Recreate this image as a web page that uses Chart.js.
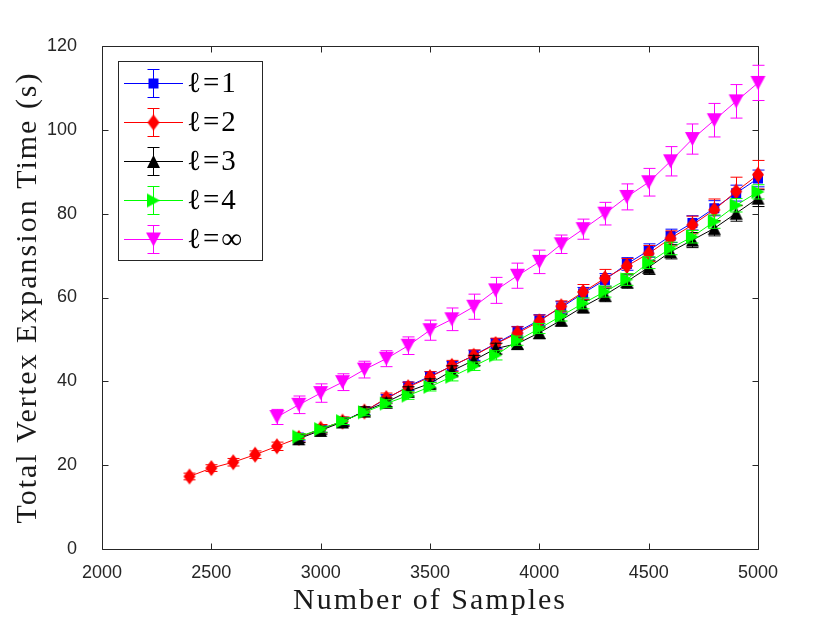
<!DOCTYPE html>
<html><head><meta charset="utf-8">
<script src="https://cdn.jsdelivr.net/npm/chart.js@4.4.0/dist/chart.umd.min.js"></script>
<style>html,body{margin:0;padding:0;background:#fff;}canvas{display:block}</style>
</head><body>
<canvas id="c" width="830" height="623"></canvas>
<script>
// ---- data ----
const samplesL2  = [2400,2500,2600,2700,2800,2900,3000,3100,3200,3300,3400,3500,3600,3700,3800,3900,4000,4100,4200,4300,4400,4500,4600,4700,4800,4900,5000];
const samplesInf = [2800,2900,3000,3100,3200,3300,3400,3500,3600,3700,3800,3900,4000,4100,4200,4300,4400,4500,4600,4700,4800,4900,5000];
const samples    = [2900,3000,3100,3200,3300,3400,3500,3600,3700,3800,3900,4000,4100,4200,4300,4400,4500,4600,4700,4800,4900,5000];

const l1Values = [26.6,28.6,30.4,32.9,35.8,38.8,41.2,43.6,46.2,49.0,51.8,54.6,57.6,61.0,64.2,68.0,71.2,74.7,77.8,81.3,84.9,88.4];
const l1Errors = [0.8,0.8,0.9,0.9,1.0,1.0,1.1,1.1,1.2,1.2,1.3,1.3,1.4,1.4,1.5,1.5,1.6,1.6,1.7,1.8,1.9,2.0];

const l2Values = [17.3,19.3,20.7,22.5,24.5,26.5,28.7,30.4,32.8,36.0,38.6,41.0,43.7,46.1,48.9,51.5,54.3,57.9,61.3,64.6,67.5,70.5,74.1,77.3,80.9,85.3,89.3];
const l2Errors = [0.8,0.8,0.9,0.9,1.0,1.0,1.0,1.1,1.1,1.2,1.2,1.3,1.3,1.4,1.4,1.5,1.5,1.3,1.8,2.1,1.8,1.9,1.8,2.1,2.6,3.4,3.4];

const l3Values = [26.3,28.3,30.3,32.9,35.0,37.6,39.5,42.5,45.0,47.8,49.0,51.6,54.6,57.8,60.6,63.8,67.2,70.9,73.7,76.5,80.1,83.7];
const l3Errors = [0.9,0.9,1.0,1.0,1.0,1.1,1.1,1.2,1.2,1.3,1.3,1.4,1.4,1.5,1.6,1.6,1.7,1.7,1.8,1.8,1.9,2.0];

const l4Values = [26.8,28.6,30.5,32.6,34.7,36.6,38.7,41.1,43.6,46.2,49.7,52.6,55.6,58.6,61.4,64.3,68.3,71.7,74.5,78.1,82.0,85.2];
const l4Errors = [0.7,0.7,0.8,0.8,0.9,0.9,1.0,1.0,1.0,1.1,1.1,1.2,1.2,1.3,1.3,1.4,1.4,1.5,1.5,1.6,1.6,1.7];

const lInfValues = [31.5,34.4,37.2,39.8,42.8,45.4,48.5,52.2,54.8,57.8,61.7,65.2,68.5,72.7,76.3,80.0,84.0,87.5,92.5,97.8,102.3,106.8,111.2];
const lInfErrors = [1.8,2.1,2.2,2.0,2.0,1.9,2.1,2.4,2.7,3.0,3.1,3.0,2.8,2.2,2.4,2.7,3.1,3.3,3.5,3.6,4.0,4.0,4.2];

const xTickValues = [2000,2500,3000,3500,4000,4500,5000];
const yTickValues = [0,20,40,60,80,100,120];
const legendLabels = ['\u2113=1','\u2113=2','\u2113=3','\u2113=4','\u2113=\u221E'];
const seriesColors = ['#0000ff','#ff0000','#000000','#00ff00','#ff00ff'];

// ---- marker images ----
function marker(shape, color, w, h){
  const c = document.createElement('canvas');
  c.width = w + 2; c.height = h + 2;
  const g = c.getContext('2d');
  g.fillStyle = color;
  const cx = (w + 2) / 2, cy = (h + 2) / 2;
  g.beginPath();
  if (shape === 'square') g.rect(1, 1, w, h);
  else if (shape === 'diamond') { g.moveTo(cx,1); g.lineTo(1+w,cy); g.lineTo(cx,1+h); g.lineTo(1,cy); }
  else if (shape === 'up') { g.moveTo(cx,1); g.lineTo(1+w,1+h); g.lineTo(1,1+h); }
  else if (shape === 'down') { g.moveTo(1,1); g.lineTo(1+w,1); g.lineTo(cx,1+h); }
  else if (shape === 'right') { g.moveTo(1,1); g.lineTo(1+w,cy); g.lineTo(1,1+h); }
  g.closePath(); g.fill();
  return c;
}
const markers = [
  marker('square', seriesColors[0], 10, 10),
  marker('diamond', seriesColors[1], 12, 16),
  marker('up', seriesColors[2], 13, 13),
  marker('right', seriesColors[3], 13, 14),
  marker('down', seriesColors[4], 15, 14)
];

function pts(xs, ys){ return xs.map((x,i)=>({x:x, y:ys[i]})); }

const seriesX = [samples, samplesL2, samples, samples, samplesInf];
const seriesY = [l1Values, l2Values, l3Values, l4Values, lInfValues];
const seriesE = [l1Errors, l2Errors, l3Errors, l4Errors, lInfErrors];

const datasets = seriesY.map((ys, k) => ({
  label: legendLabels[k],
  data: pts(seriesX[k], ys),
  errors: seriesE[k],
  borderColor: seriesColors[k],
  backgroundColor: seriesColors[k],
  borderWidth: 1,
  pointStyle: markers[k],
  pointRadius: 7,
  showLine: true,
  tension: 0,
  clip: false,
  order: 5 - k
}));

const AX = '#262626';

const errorBars = {
  id: 'errorBars',
  beforeDatasetDraw(chart, args){
    const ds = chart.data.datasets[args.index];
    const errs = ds.errors; if (!errs) return;
    const ctx = chart.ctx, xs = chart.scales.x, ys = chart.scales.y;
    ctx.save();
    ctx.strokeStyle = ds.borderColor; ctx.lineWidth = 1;
    ds.data.forEach((p, i) => {
      const px = Math.round(xs.getPixelForValue(p.x)) + 0.5;
      const y1 = ys.getPixelForValue(p.y + errs[i]);
      const y2 = ys.getPixelForValue(p.y - errs[i]);
      ctx.beginPath();
      ctx.moveTo(px, y1); ctx.lineTo(px, y2);
      ctx.moveTo(px - 6, y1); ctx.lineTo(px + 6, y1);
      ctx.moveTo(px - 6, y2); ctx.lineTo(px + 6, y2);
      ctx.stroke();
    });
    ctx.restore();
  }
};

const frame = {
  id: 'frame',
  beforeDatasetsDraw(chart){
    const {ctx, chartArea: a, scales: {x, y}} = chart;
    ctx.save();
    ctx.strokeStyle = AX; ctx.lineWidth = 1;
    const L = Math.round(a.left) + 0.5, R = Math.round(a.right) + 0.5;
    const T = Math.round(a.top) + 0.5, B = Math.round(a.bottom) + 0.5;
    ctx.beginPath();
    ctx.rect(L, T, R - L, B - T);
    const tl = 6;
    xTickValues.forEach(v => {
      const px = Math.round(x.getPixelForValue(v)) + 0.5;
      ctx.moveTo(px, B); ctx.lineTo(px, B - tl);
      ctx.moveTo(px, T); ctx.lineTo(px, T + tl);
    });
    yTickValues.forEach(v => {
      const py = Math.round(y.getPixelForValue(v)) + 0.5;
      ctx.moveTo(L, py); ctx.lineTo(L + tl, py);
      ctx.moveTo(R, py); ctx.lineTo(R - tl, py);
    });
    ctx.stroke();
    ctx.restore();
  }
};

const legendBox = {
  id: 'legendBox',
  afterDraw(chart){
    const ctx = chart.ctx;
    ctx.save();
    const bx = 118.5, by = 61.5, bw = 144, bh = 199;
    ctx.fillStyle = '#fff'; ctx.fillRect(bx, by, bw, bh);
    ctx.strokeStyle = AX; ctx.lineWidth = 1; ctx.strokeRect(bx, by, bw, bh);
    const rows = [83.5, 122.5, 161.5, 200.5, 239.5];
    rows.forEach((ry, k) => {
      const c = seriesColors[k];
      ctx.strokeStyle = c; ctx.lineWidth = 1;
      ctx.beginPath();
      ctx.moveTo(124, ry); ctx.lineTo(183, ry);
      ctx.moveTo(153.5, ry - 14); ctx.lineTo(153.5, ry + 14);
      ctx.moveTo(147.5, ry - 14); ctx.lineTo(159.5, ry - 14);
      ctx.moveTo(147.5, ry + 14); ctx.lineTo(159.5, ry + 14);
      ctx.stroke();
      const m = markers[k];
      ctx.drawImage(m, 153.5 - m.width / 2, ry - m.height / 2);
      ctx.fillStyle = '#000';
      ctx.font = '29px "Liberation Serif", "DejaVu Serif", serif';
      try { ctx.letterSpacing = '2px'; } catch (e) {}
      ctx.textBaseline = 'middle'; ctx.textAlign = 'left';
      ctx.fillText(legendLabels[k], 187, ry + 1);
    });
    ctx.restore();
  }
};

function spacedTitle(s){
  if (s.$spaced) return;
  s.$spaced = true;
  const orig = s.drawTitle.bind(s);
  s.drawTitle = function(){
    const ctx = this.ctx;
    ctx.save();
    try { ctx.letterSpacing = '2px'; } catch (e) {}
    orig();
    ctx.restore();
  };
}

new Chart(document.getElementById('c'), {
  type: 'line',
  data: { datasets },
  options: {
    responsive: false,
    animation: false,
    devicePixelRatio: 1,
    layout: { padding: { top: 46, right: 72, bottom: 0, left: 0 } },
    plugins: { legend: { display: false }, tooltip: { enabled: false } },
    scales: {
      x: {
        type: 'linear', min: 2000, max: 5000,
        afterBuildTicks: s => { s.ticks = xTickValues.map(v => ({ value: v })); },
        afterFit: s => { s.height = 74; spacedTitle(s); },
        grid: { display: false }, border: { display: false },
        ticks: { color: AX, padding: 5, maxRotation: 0, autoSkip: false,
                 font: { family: '"Liberation Sans", Arial, sans-serif', size: 18 },
                 callback: v => String(v) },
        title: { display: true, text: 'Number of Samples', color: '#1a1a1a',
                 font: { family: '"Liberation Serif", serif', size: 30, lineHeight: 1 },
                 padding: { top: 0, bottom: 7 } }
      },
      y: {
        type: 'linear', min: 0, max: 120,
        afterBuildTicks: s => { s.ticks = yTickValues.map(v => ({ value: v })); },
        afterFit: s => { s.width = 102; spacedTitle(s); },
        grid: { display: false }, border: { display: false },
        ticks: { color: AX, padding: 17, autoSkip: false,
                 font: { family: '"Liberation Sans", Arial, sans-serif', size: 18 },
                 callback: v => String(v) },
        title: { display: true, text: 'Total Vertex Expansion Time (s)', color: '#1a1a1a',
                 font: { family: '"Liberation Serif", serif', size: 30, lineHeight: 1 },
                 padding: { top: 13, bottom: 0 } }
      }
    }
  },
  plugins: [errorBars, frame, legendBox]
});
</script>
</body></html>
